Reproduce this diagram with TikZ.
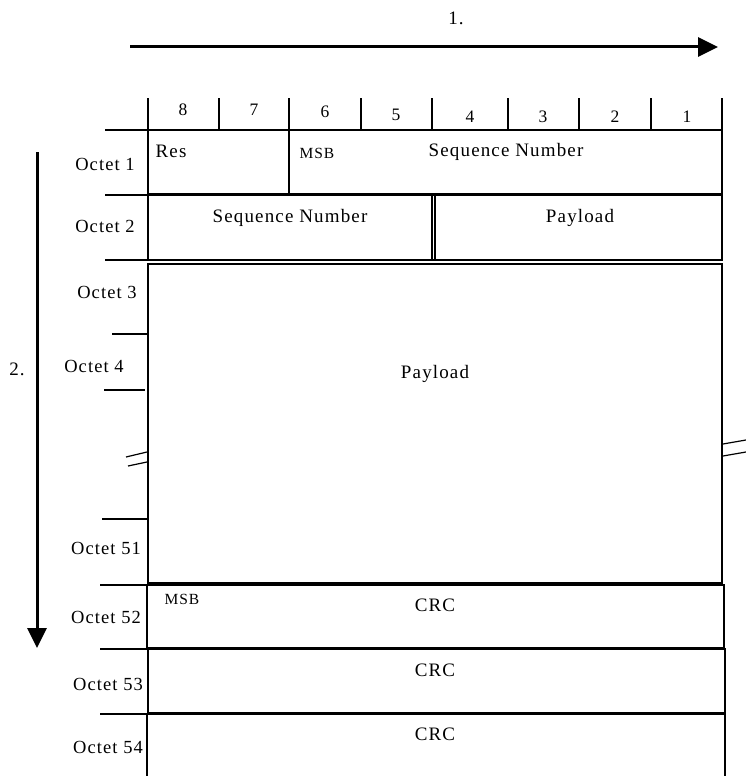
\documentclass[tikz,border=0pt]{standalone}
\usepackage{fontspec}
\setmainfont{Liberation Serif}[LetterSpace=6]
\usetikzlibrary{arrows.meta}
\begin{document}
\begin{tikzpicture}[x=1pt, y=-1pt, line width=1.2pt,
  fieldtext/.style={inner sep=0pt, anchor=base, font=\fontsize{19}{22}\selectfont},
  octettext/.style={inner sep=0pt, anchor=base, font=\fontsize{18.5}{22}\selectfont},
  bittext/.style={inner sep=0pt, anchor=base, font=\fontsize{17.5}{20}\selectfont},
  msbtext/.style={inner sep=0pt, anchor=base, font=\fontsize{15.5}{18}\selectfont},
  dirarrow/.style={line width=3pt, -{Triangle[length=20pt, width=19pt]}},
]
  \useasboundingbox (0,0) rectangle (746,776);

  % Direction arrows
  \coordinate (hstart) at (130,47);
  \coordinate (hend) at (718,47);
  \draw[dirarrow] (hstart) -- (hend);
  \node[fieldtext] (first) at (456,25) {1.};
  \coordinate (vstart) at (37,152);
  \coordinate (vend) at (37,648);
  \draw[dirarrow] (vstart) -- (vend);
  \node[fieldtext] (second) at (17,375) {2.};

  % Bit numbers
  \foreach \x in {148,219,289,361,432,508,579,651,722}
    \draw (\x,98) -- (\x,130);
  \foreach \b/\x/\y in {8/183/115, 7/254/115, 6/325/117, 5/396/120,
                        4/470/122, 3/543/122, 2/615/122, 1/687/122}
    \node[bittext] (bit\b) at (\x,\y) {\b};

  % Octet 1 and 2
  \draw (105,130) -- (148,130);
  \draw (148,130) rectangle (722,194);
  \draw (289,130) -- (289,194);
  \node[octettext] (oct1) at (105,170) {Octet 1};
  \node[fieldtext] (res) at (171,157) {Res};
  \node[msbtext] (msb1) at (317,158) {MSB};
  \node[fieldtext] (seq1) at (506,156) {Sequence Number};

  \draw (105,195) -- (148,195);
  \draw (105,260) -- (148,260);
  \draw (148,195) rectangle (722,260);
  \draw (432,195) -- (432,260);
  \draw (435,195) -- (435,260);
  \node[octettext] (oct2) at (105,232) {Octet 2};
  \node[fieldtext] (seq2) at (290,222) {Sequence Number};
  \node[fieldtext] (pay2) at (580,222) {Payload};

  % Payload
  \draw (148,264) rectangle (722,583);
  \draw (112,334) -- (148,334);
  \draw (104,390) -- (145,390);
  \draw (102,519) -- (148,519);
  \draw (126,457) -- (147,452);
  \draw (128,466) -- (147,462);
  \draw (723,444) -- (746,440);
  \draw (723,456) -- (746,452);
  \node[octettext] (oct3) at (107,298) {Octet 3};
  \node[octettext] (oct4) at (94,372) {Octet 4};
  \node[octettext] (oct51) at (106,554) {Octet 51};
  \node[fieldtext] (pay) at (435,378) {Payload};

  % CRC
  \draw (100,585) -- (147,585);
  \draw (147,585) rectangle (724,648);
  \node[octettext] (oct52) at (106,623) {Octet 52};
  \node[msbtext] (msb52) at (182,604) {MSB};
  \node[fieldtext] (crc52) at (435,611) {CRC};

  \draw (100,649) -- (148,649);
  \draw (148,649) rectangle (725,713);
  \node[octettext] (oct53) at (108,690) {Octet 53};
  \node[fieldtext] (crc53) at (435,676) {CRC};

  \draw (100,714) -- (147,714);
  \draw (147,714) rectangle (725,790);
  \node[octettext] (oct54) at (108,753) {Octet 54};
  \node[fieldtext] (crc54) at (435,740) {CRC};
\end{tikzpicture}
\end{document}
